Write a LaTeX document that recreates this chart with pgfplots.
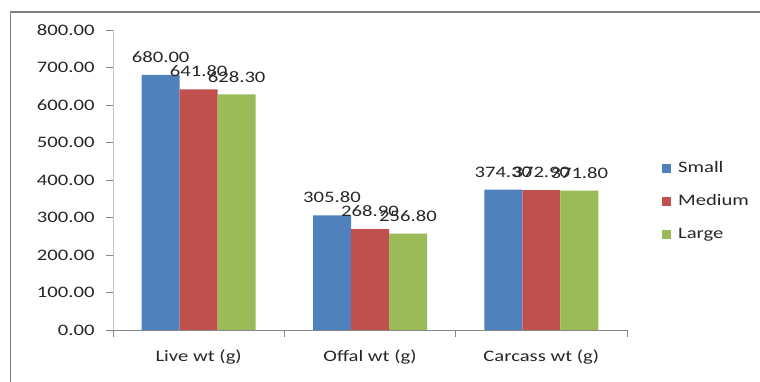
\documentclass[border=0pt]{standalone}
\usepackage{fontspec}
\setmainfont{Carlito}[FakeStretch=1.29]
\usepackage{pgfplots}
\pgfplotsset{compat=1.18}

\definecolor{smallc}{HTML}{4F81BD}
\definecolor{mediumc}{HTML}{C0504D}
\definecolor{largec}{HTML}{9BBB59}
\definecolor{axisgray}{HTML}{868686}
\definecolor{framegray}{HTML}{7F7F7F}

\begin{document}
\begin{tikzpicture}
\useasboundingbox (0pt,0pt) rectangle (760pt,382pt);
% chart frame
\draw[framegray, line width=1.6pt] (10.5pt,-10pt) -- (10.5pt,370pt) -- (780pt,370pt);
\begin{axis}[
  at={(113pt,52pt)}, anchor=south west,
  scale only axis, width=514pt, height=300pt,
  ybar=0pt, bar width=38pt,
  xmin=-0.5, xmax=2.5, ymin=0, ymax=800,
  xtick={0,1,2},
  xticklabels={Live wt (g), Offal wt (g), Carcass wt (g)},
  minor xtick={-0.5,0.5,1.5,2.5},
  ytick={0,100,...,800},
  axis x line*=bottom, axis y line*=left,
  x axis line style={axisgray, line width=0.8pt, -},
  y axis line style={gray!45, line width=0.8pt, -},
  tick align=outside,
  major tick length=7pt, minor tick length=7pt,
  x tick style={draw=none},
  minor x tick style={draw=axisgray, line width=0.8pt},
  y tick style={draw=axisgray, line width=0.8pt},
  ticklabel style={font=\fontsize{16}{19}\selectfont, text=black!85},
  /pgf/number format/.cd, fixed, fixed zerofill, precision=2, 1000 sep={}, assume math mode=true,
  /pgfplots/.cd,
  xticklabel style={yshift=-9pt},
  yticklabel style={xshift=-8pt},
  nodes near coords,
  every node near coord/.append style={font=\fontsize{16}{19}\selectfont, text=black!85, inner sep=0pt, yshift=12pt},
  legend style={draw=none, fill=none, at={(1.068,0.428)}, anchor=west,
    font=\fontsize{16}{19}\selectfont, text=black!85,
    inner sep=0pt, row sep=18pt,
    nodes={inner sep=0pt, text height=11.5pt, text depth=3.5pt},
    /tikz/every odd column/.append style={column sep=7pt}},
  legend cell align=left,
  legend image code/.code={\fill[#1] (0pt,-4.5pt) rectangle (9pt,4.5pt);},
]
\addplot[fill=smallc, draw=none] coordinates {(0,680.00) (1,305.80) (2,374.30)};
\addplot[fill=mediumc, draw=none] coordinates {(0,641.80) (1,268.90) (2,372.90)};
\addplot[fill=largec, draw=none] coordinates {(0,628.30) (1,256.80) (2,371.80)};
\legend{Small, Medium, Large}
\end{axis}
\end{tikzpicture}
\end{document}
